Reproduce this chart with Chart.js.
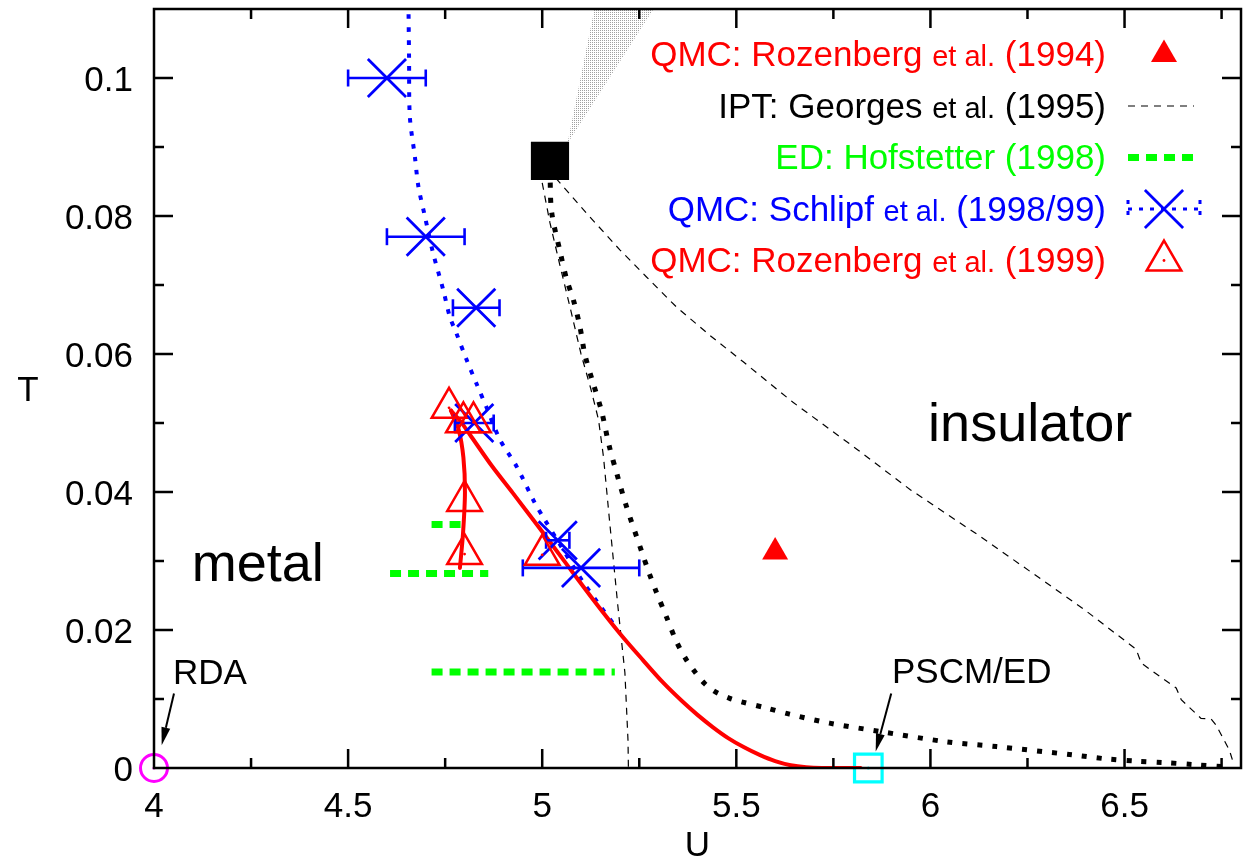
<!DOCTYPE html>
<html>
<head>
<meta charset="utf-8">
<title>Mott transition phase diagram</title>
<script src="https://cdn.jsdelivr.net/npm/chart.js@4.4.1/dist/chart.umd.min.js"></script>
<style>
  html, body { margin: 0; padding: 0; background: #fff; }
  canvas { display: block; }
</style>
</head>
<body>
<canvas id="chart" width="1252" height="857"></canvas>
<script>
// values: U on x, T on y
const qmc1994U = [5.6];
const qmc1994T = [0.0313];

const iptUc1U = [5.0, 5.02, 5.045, 5.075, 5.1, 5.125, 5.145, 5.158, 5.174, 5.195, 5.213, 5.221, 5.222];
const iptUc1T = [0.0848, 0.079, 0.073, 0.066, 0.06, 0.055, 0.0505, 0.045, 0.0355, 0.0234, 0.0138, 0.004, 0];
const iptUc2U = [5.035, 5.114, 5.2, 5.268, 5.346, 5.432, 5.517, 5.646, 5.813, 5.949, 6.13, 6.312, 6.4, 6.53, 6.543, 6.633, 6.646, 6.697, 6.723, 6.736, 6.77, 6.78];
const iptUc2T = [0.0855, 0.0804, 0.0751, 0.0712, 0.0668, 0.0627, 0.0589, 0.053, 0.0461, 0.0403, 0.0335, 0.0263, 0.0228, 0.0172, 0.0152, 0.0116, 0.0099, 0.0072, 0.0071, 0.0062, 0.0026, 0.0008];

const edT = [0.0353, 0.0282, 0.0139];
const edUfrom = [4.715, 4.608, 4.715];
const edUto = [4.8, 4.861, 5.187];

const schlipfU = [4.6, 4.7, 4.83, 4.825, 5.04, 5.1];
const schlipfT = [0.1, 0.077, 0.0667, 0.05, 0.033, 0.029];
const schlipfErr = [0.1, 0.1, 0.06, 0.05, 0.03, 0.15];
const schlipfLineU = [4.655, 4.657, 4.659, 4.672, 4.681, 4.698, 4.719, 4.745, 4.762, 4.779, 4.805, 4.833, 4.857, 4.891, 4.934, 4.981, 5.002, 5.05, 5.101, 5.144, 5.191];
const schlipfLineT = [0.113, 0.103, 0.0944, 0.0886, 0.0843, 0.0799, 0.0746, 0.0693, 0.0654, 0.063, 0.0592, 0.0554, 0.0522, 0.0476, 0.0437, 0.0384, 0.0364, 0.032, 0.0273, 0.0239, 0.0203];

const rozenberg1999U = [4.76, 4.797, 4.823, 4.8, 4.8, 5.0];
const rozenberg1999T = [0.0522, 0.0501, 0.0501, 0.0387, 0.031, 0.0309];

// red solid line: short near-vertical branch and the long tail down to T = 0
const ucBranchU = [4.788, 4.796, 4.801, 4.797, 4.785, 4.765];
const ucBranchT = [0.029, 0.034, 0.04, 0.045, 0.049, 0.0518];
const ucTailU = [4.765, 4.79, 4.814, 4.87, 4.925, 4.99, 5.054, 5.13, 5.2, 5.26, 5.311, 5.36, 5.4, 5.44, 5.48, 5.52, 5.56, 5.6, 5.64, 5.68, 5.72, 5.82];
const ucTailT = [0.0518, 0.0502, 0.0483, 0.0438, 0.0398, 0.035, 0.0302, 0.0245, 0.0195, 0.0156, 0.0124, 0.0097, 0.0077, 0.0059, 0.0043, 0.003, 0.0019, 0.001, 0.0004, 0.0001, 0, 0];

const firstOrderU = [5.02, 5.024, 5.047, 5.063, 5.08, 5.097, 5.11, 5.131, 5.153, 5.172, 5.193, 5.217, 5.256, 5.275, 5.294, 5.32, 5.346, 5.371, 5.395, 5.419, 5.444, 5.483, 5.513, 5.577, 5.637, 5.74, 5.869, 6.041, 6.17, 6.367, 6.457, 6.53, 6.599, 6.676, 6.75];
const firstOrderT = [0.087, 0.0807, 0.0746, 0.0708, 0.0679, 0.064, 0.0599, 0.0558, 0.0517, 0.0468, 0.0425, 0.0379, 0.0314, 0.0283, 0.0255, 0.0219, 0.0183, 0.0157, 0.0138, 0.0122, 0.0111, 0.0101, 0.0096, 0.0087, 0.0078, 0.0065, 0.0053, 0.0038, 0.0031, 0.0019, 0.0013, 0.001, 0.0008, 0.0005, 0.0002];

const criticalU = [5.02];
const criticalT = [0.088];
const crossoverU = [5.065, 5.138, 5.298];
const crossoverT = [0.0905, 0.111, 0.111];

const rdaU = [4];
const rdaT = [0];
const pscmU = [5.84];
const pscmT = [0];

const legendRows = [
  { parts: ['QMC: Rozenberg ', 'et al.', ' (1994)'], color: '#ff0000', symbol: 'solidTriangle' },
  { parts: ['IPT: Georges ', 'et al.', ' (1995)'], color: '#000000', symbol: 'ipt' },
  { parts: ['ED: Hofstetter (1998)'], color: '#00ff00', symbol: 'ed' },
  { parts: ['QMC: Schlipf ', 'et al.', ' (1998/99)'], color: '#0000ff', symbol: 'schlipf' },
  { parts: ['QMC: Rozenberg ', 'et al.', ' (1999)'], color: '#ff0000', symbol: 'openTriangle' }
];

const notes = [
  { text: 'metal', u: 4.097, t: 0.0271, size: 54 },
  { text: 'insulator', u: 5.994, t: 0.0474, size: 54 },
  { text: 'RDA', u: 4.049, t: 0.0122, size: 35 },
  { text: 'PSCM/ED', u: 5.901, t: 0.0123, size: 35 }
];
const arrows = [
  { u0: 4.0515, t0: 0.0108, u1: 4.0198, t1: 0.0033 },
  { u0: 5.899, t0: 0.0108, u1: 5.859, t1: 0.0024 }
];

const FONT = '"Liberation Sans", Arial, Helvetica, sans-serif';
const RED = '#ff0000';
const BLUE = '#0000ff';
const GREEN = '#00ff00';

const pts = (xs, ys) => xs.map((x, i) => ({ x: x, y: ys[i] }));
const fmt = (v) => String(Number(v.toFixed(3)));

function stipple() {
  const c = document.createElement('canvas');
  c.width = 2;
  c.height = 2;
  const g = c.getContext('2d');
  g.fillStyle = '#a0a0a0';
  g.fillRect(0, 0, 1, 1);
  return g.createPattern(c, 'repeat');
}

const lineStyles = {
  ipt: { borderColor: '#000', borderWidth: 1.2, borderDash: [7, 6] },
  ed: { borderColor: GREEN, borderWidth: 7, borderDash: [11, 7] },
  schlipf: { borderColor: BLUE, borderWidth: 4, borderDash: [4.5, 8.5] },
  firstOrder: { borderColor: '#000', borderWidth: 5, borderDash: [5, 10] },
  uc: { borderColor: RED, borderWidth: 4, borderJoinStyle: 'round', borderCapStyle: 'round' }
};

const line = (data, style, extra) => Object.assign({
  data: data, showLine: true, pointRadius: 0, fill: false
}, style, extra || {});

const datasets = [];

// Chart.js paints index 0 last, so the topmost marks come first
datasets.push({
  data: pts(rozenberg1999U, rozenberg1999T), showLine: false,
  pointStyle: 'circle', pointRadius: 1.4, pointBorderWidth: 0, pointBackgroundColor: RED
});
datasets.push({
  data: pts(rozenberg1999U, rozenberg1999T), showLine: false,
  pointStyle: 'triangle', pointRadius: 20, pointBorderWidth: 2.5,
  pointBorderColor: RED, pointBackgroundColor: 'rgba(0,0,0,0)'
});
datasets.push({
  data: pts(qmc1994U, qmc1994T), showLine: false,
  pointStyle: 'triangle', pointRadius: 15, pointBorderWidth: 0, pointBackgroundColor: RED
});
datasets.push({
  data: pts(schlipfU, schlipfT), showLine: false,
  pointStyle: 'crossRot', pointRadius: 27, pointBorderWidth: 2.8, pointBorderColor: BLUE
});
schlipfU.forEach((u, i) => {
  datasets.push({
    data: [{ x: u - schlipfErr[i], y: schlipfT[i] }, { x: u + schlipfErr[i], y: schlipfT[i] }],
    showLine: true, borderColor: BLUE, borderWidth: 2.6, fill: false,
    pointStyle: 'line', pointRotation: 90, pointRadius: 8.5,
    pointBorderWidth: 2.6, pointBorderColor: BLUE
  });
});
datasets.push(line(pts(ucBranchU, ucBranchT), lineStyles.uc, { tension: 0.3 }));
datasets.push(line(pts(ucTailU, ucTailT), lineStyles.uc, { tension: 0.3 }));
datasets.push(line(pts(schlipfLineU, schlipfLineT), lineStyles.schlipf, { tension: 0.3 }));
edT.forEach((t, i) => {
  datasets.push(line([{ x: edUfrom[i], y: t }, { x: edUto[i], y: t }], lineStyles.ed));
});
datasets.push(line(pts(iptUc1U, iptUc1T), lineStyles.ipt));
datasets.push(line(pts(iptUc2U, iptUc2T), lineStyles.ipt));
datasets.push(line(pts(firstOrderU, firstOrderT), lineStyles.firstOrder, { tension: 0.3 }));
datasets.push({
  data: pts(criticalU, criticalT), showLine: false,
  pointStyle: 'rect', pointRadius: 27, pointBorderWidth: 0, pointBackgroundColor: '#000'
});
datasets.push({
  data: pts(crossoverU, crossoverT), showLine: true, pointRadius: 0,
  borderWidth: 0, borderColor: 'rgba(0,0,0,0)', backgroundColor: stipple(), fill: 'shape'
});
datasets.push({
  data: pts(rdaU, rdaT), showLine: false, clip: false,
  pointStyle: 'circle', pointRadius: 1.6, pointBorderWidth: 0, pointBackgroundColor: '#ff00ff'
});
datasets.push({
  data: pts(rdaU, rdaT), showLine: false, clip: false,
  pointStyle: 'circle', pointRadius: 13.5, pointBorderWidth: 3,
  pointBorderColor: '#ff00ff', pointBackgroundColor: 'rgba(0,0,0,0)'
});
datasets.push({
  data: pts(pscmU, pscmT), showLine: false, clip: false,
  pointStyle: 'circle', pointRadius: 1.6, pointBorderWidth: 0, pointBackgroundColor: '#00ffff'
});
datasets.push({
  data: pts(pscmU, pscmT), showLine: false, clip: false,
  pointStyle: 'rect', pointRadius: 19.5, pointBorderWidth: 3.2,
  pointBorderColor: '#00ffff', pointBackgroundColor: 'rgba(0,0,0,0)'
});

// gnuplot-like frame, inward ticks on all sides, tick labels from the scales
const frameTicks = {
  id: 'frameTicks',
  afterDatasetsDraw(chart) {
    const { ctx, chartArea: a, scales: { x, y } } = chart;
    ctx.save();
    ctx.strokeStyle = '#000';
    ctx.lineWidth = 2.5;
    ctx.strokeRect(a.left, a.top, a.right - a.left, a.bottom - a.top);
    ctx.beginPath();
    for (let i = 1; i * 0.25 < x.max - x.min; i++) {
      const px = x.getPixelForValue(x.min + i * 0.25);
      const len = i % 2 === 0 ? 19 : 10;
      ctx.moveTo(px, a.bottom); ctx.lineTo(px, a.bottom - len);
      ctx.moveTo(px, a.top); ctx.lineTo(px, a.top + len);
    }
    for (let i = 1; i * 0.01 < y.max - 1e-9; i++) {
      const py = y.getPixelForValue(i * 0.01);
      const len = i % 2 === 0 ? 19 : 10;
      ctx.moveTo(a.left, py); ctx.lineTo(a.left + len, py);
      ctx.moveTo(a.right, py); ctx.lineTo(a.right - len, py);
    }
    ctx.stroke();

    ctx.fillStyle = '#000';
    ctx.font = '35px ' + FONT;
    ctx.textBaseline = 'alphabetic';
    ctx.textAlign = 'center';
    x.ticks.forEach((t) => {
      ctx.fillText(fmt(t.value), x.getPixelForValue(t.value), a.bottom + 49);
    });
    ctx.textAlign = 'right';
    y.ticks.forEach((t) => {
      ctx.fillText(fmt(t.value), a.left - 21, y.getPixelForValue(t.value) + 12.5);
    });
    ctx.restore();
  }
};

function drawArrow(ctx, x0, y0, x1, y1) {
  const ang = Math.atan2(y1 - y0, x1 - x0);
  const head = 18, half = 4.5;
  const bx = x1 - Math.cos(ang) * head, by = y1 - Math.sin(ang) * head;
  ctx.beginPath();
  ctx.moveTo(x0, y0);
  ctx.lineTo(bx, by);
  ctx.stroke();
  ctx.beginPath();
  ctx.moveTo(x1, y1);
  ctx.lineTo(bx - Math.sin(ang) * half, by + Math.cos(ang) * half);
  ctx.lineTo(bx + Math.sin(ang) * half, by - Math.cos(ang) * half);
  ctx.closePath();
  ctx.fill();
}

const labels = {
  id: 'labels',
  afterDatasetsDraw(chart) {
    const { ctx, chartArea: a, scales: { x, y } } = chart;
    ctx.save();
    ctx.fillStyle = '#000';
    ctx.strokeStyle = '#000';
    ctx.textBaseline = 'alphabetic';
    ctx.textAlign = 'left';
    notes.forEach((n) => {
      ctx.font = n.size + 'px ' + FONT;
      ctx.fillText(n.text, x.getPixelForValue(n.u), y.getPixelForValue(n.t));
    });
    ctx.lineWidth = 2;
    arrows.forEach((ar) => {
      drawArrow(ctx, x.getPixelForValue(ar.u0), y.getPixelForValue(ar.t0),
        x.getPixelForValue(ar.u1), y.getPixelForValue(ar.t1));
    });
    // axis titles
    ctx.font = '35px ' + FONT;
    ctx.textAlign = 'center';
    ctx.fillText('T', 28, (a.top + a.bottom) / 2 + 12);
    ctx.fillText('U', (a.left + a.right) / 2, 856);
    ctx.restore();
  }
};

function drawLegendSymbol(ctx, kind, cx, cy) {
  const draw = Chart.helpers.drawPoint;
  ctx.save();
  if (kind === 'solidTriangle') {
    ctx.fillStyle = RED;
    draw(ctx, { pointStyle: 'triangle', radius: 15, rotation: 0, borderWidth: 0 }, cx, cy);
  } else if (kind === 'openTriangle') {
    ctx.strokeStyle = RED;
    ctx.lineWidth = 2.5;
    ctx.fillStyle = 'rgba(0,0,0,0)';
    draw(ctx, { pointStyle: 'triangle', radius: 20, rotation: 0, borderWidth: 2.5 }, cx, cy);
    ctx.fillStyle = RED;
    ctx.beginPath();
    ctx.arc(cx, cy, 1.4, 0, Math.PI * 2);
    ctx.fill();
  } else {
    const st = lineStyles[kind];
    ctx.strokeStyle = st.borderColor;
    ctx.lineWidth = kind === 'schlipf' ? 3 : st.borderWidth;
    ctx.setLineDash(kind === 'schlipf' ? [4, 7] : st.borderDash);
    ctx.beginPath();
    ctx.moveTo(cx - 36, cy);
    ctx.lineTo(cx + (kind === 'schlipf' ? 36 : 30), cy);
    if (kind === 'schlipf') {
      ctx.moveTo(cx - 36, cy - 9); ctx.lineTo(cx - 36, cy + 9);
      ctx.moveTo(cx + 36, cy - 9); ctx.lineTo(cx + 36, cy + 9);
    }
    ctx.stroke();
    if (kind === 'schlipf') {
      ctx.setLineDash([]);
      ctx.lineWidth = 2.8;
      draw(ctx, { pointStyle: 'crossRot', radius: 27, rotation: 0, borderWidth: 2.8 }, cx, cy);
    }
  }
  ctx.restore();
}

const legendBox = {
  id: 'legendBox',
  afterDatasetsDraw(chart) {
    const ctx = chart.ctx;
    const right = 1106, symbolX = 1164;
    ctx.save();
    ctx.textBaseline = 'alphabetic';
    ctx.textAlign = 'left';
    legendRows.forEach((row, r) => {
      const base = 66 + r * 51.5;
      const fonts = row.parts.map((p) => (p === 'et al.' ? '29px ' : '35px ') + FONT);
      let total = 0;
      row.parts.forEach((p, k) => { ctx.font = fonts[k]; total += ctx.measureText(p).width; });
      let xPos = right - total;
      ctx.fillStyle = row.color;
      row.parts.forEach((p, k) => {
        ctx.font = fonts[k];
        ctx.fillText(p, xPos, base);
        xPos += ctx.measureText(p).width;
      });
      drawLegendSymbol(ctx, row.symbol, symbolX, base - 11.5);
    });
    ctx.restore();
  }
};

// keep the plot box fixed: 154..1241 x 9..768
const fixBox = (size) => (s) => {
  if (s.isHorizontal()) s.height = size; else s.width = size;
  s.paddingTop = 0; s.paddingBottom = 0; s.paddingLeft = 0; s.paddingRight = 0;
};

Chart.defaults.font.family = FONT;

new Chart(document.getElementById('chart'), {
  type: 'scatter',
  data: { datasets: datasets },
  options: {
    responsive: false,
    animation: false,
    devicePixelRatio: 1,
    events: [],
    layout: { autoPadding: false, padding: { top: 9, right: 11, left: 0, bottom: 0 } },
    plugins: { legend: { display: false }, tooltip: { enabled: false } },
    scales: {
      x: {
        type: 'linear', min: 4, max: 6.8,
        grid: { display: false, drawTicks: false },
        border: { display: false },
        ticks: { display: false, stepSize: 0.5, includeBounds: false, padding: 0 },
        afterFit: fixBox(89)
      },
      y: {
        type: 'linear', min: 0, max: 0.11,
        grid: { display: false, drawTicks: false },
        border: { display: false },
        ticks: { display: false, stepSize: 0.02, includeBounds: false, padding: 0 },
        afterFit: fixBox(154)
      }
    }
  },
  plugins: [frameTicks, labels, legendBox]
});
</script>
</body>
</html>
